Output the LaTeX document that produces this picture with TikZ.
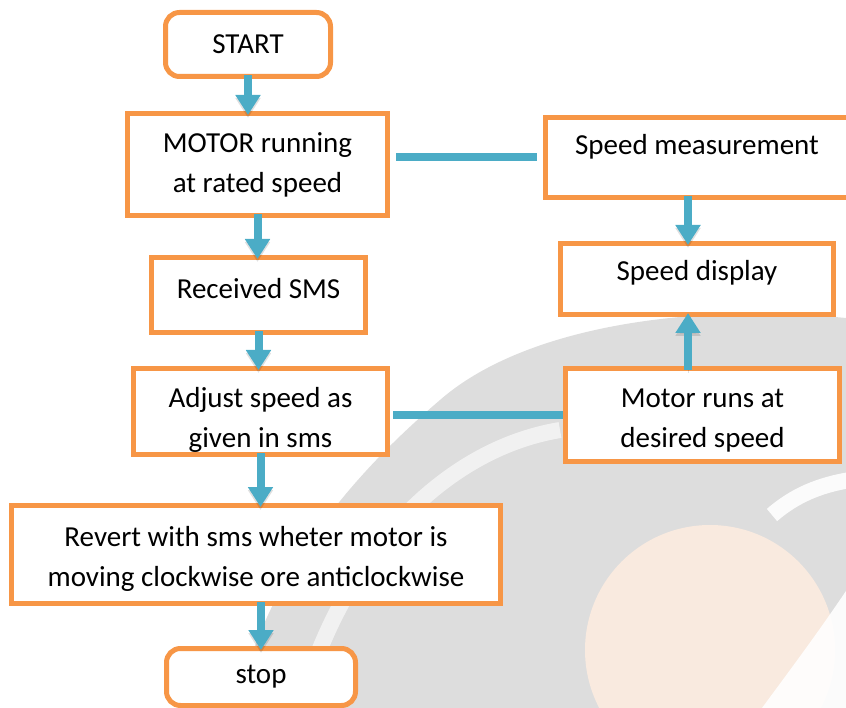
\documentclass[tikz,border=0pt]{standalone}
\usepackage{fontspec}
\setmainfont{Carlito}
\usetikzlibrary{arrows.meta,positioning}

\definecolor{boxorange}{HTML}{F79646}
\definecolor{flowblue}{HTML}{4BACC6}
\definecolor{markgray}{HTML}{DDDDDD}
\definecolor{markpeach}{HTML}{F9EADF}

\begin{document}
\begin{tikzpicture}[x=1pt, y=-1pt,
  box/.style={rectangle, draw=boxorange, line width=5pt, fill=white,
    inner sep=0pt, align=center, font=\fontsize{29pt}{40pt}\selectfont},
  term/.style={box, rounded corners=14pt},
  flow/.style={draw=flowblue, line width=8pt, -{Triangle[width=24pt,length=20pt]},
    shorten <=-4pt, shorten >=-4pt,
    preaction={draw=black, opacity=0.12, transform canvas={yshift=-3pt}}},
  link/.style={draw=flowblue, line width=8pt,
    preaction={draw=black, opacity=0.12, transform canvas={yshift=-3pt}}}]
        \useasboundingbox (0,0) rectangle (846,708);
        \clip (0,0) rectangle (846,708);
        % faint logo in the background
        \fill[markgray] (846,318) .. controls (680,302) and (520,330) .. (440,400)
            .. controls (370,460) and (270,560) .. (236,708) -- (846,708) -- cycle;
        \draw[white, line width=16pt, opacity=0.6] (560,430) .. controls (440,450) and (340,560) .. (300,708);
        \fill[markpeach] (710,650) circle (125);
        \draw[white, line width=16pt, opacity=0.9] (772,515) .. controls (795,495) and (820,485) .. (850,480);
        \fill[white, opacity=0.9] (850,585) .. controls (820,630) and (790,670) .. (762,708) -- (850,708) -- cycle;

        % left column
        \node [term, minimum width=165pt, minimum height=64pt] (start) at (248,44.5) {START};
        \node [box, minimum width=260pt, minimum height=102pt] (motor) at (257.5,164.5) {MOTOR running\\at rated speed};
        \node [box, minimum width=214pt, minimum height=75pt, text depth=14pt] (sms) at (258.5,295) {Received SMS};
        \node [box, minimum width=254pt, minimum height=86pt, text height=76pt] (adjust) at (260.5,411.5) {Adjust speed as\\given in sms};
        \node [box, minimum width=489pt, minimum height=98pt, text height=68pt] (revert) at (256,554.5) {Revert with sms wheter motor is\\moving clockwise ore anticlockwise};
        \node [term, minimum width=189pt, minimum height=57pt] (stop) at (261,677) {stop};
        % right column
        \node [box, minimum width=303pt, minimum height=80pt, text depth=26pt] (meas) at (697,157.5) {Speed measurement};
        \node [box, minimum width=273pt, minimum height=71pt, text depth=18pt] (disp) at (697,279) {Speed display};
        \node [box, minimum width=274pt, minimum height=93pt, text height=69pt] (runs) at (702.5,415) {Motor runs at\\desired speed};

        \draw [flow] (start.south) -- (start.south |- motor.north);
        \draw [flow] (motor.south) -- (motor.south |- sms.north);
        \draw [flow] (sms.south) -- (sms.south |- adjust.north);
        \draw [flow] (adjust.south) -- (adjust.south |- revert.north);
        \draw [flow] (stop.north |- revert.south) -- (stop.north);
        \draw [flow] ([xshift=-9pt]meas.south) -- ([xshift=-9pt]meas.south |- disp.north);
        \draw [flow] ([xshift=-9pt]disp.south |- runs.north) -- ([xshift=-9pt]disp.south);
        \draw [link] ([xshift=6pt]motor.east |- meas.west) -- ([xshift=-6pt]meas.west);
        \draw [link] ([xshift=3pt]runs.west -| adjust.east) -- (runs.west);
    \end{tikzpicture}
\end{document}
